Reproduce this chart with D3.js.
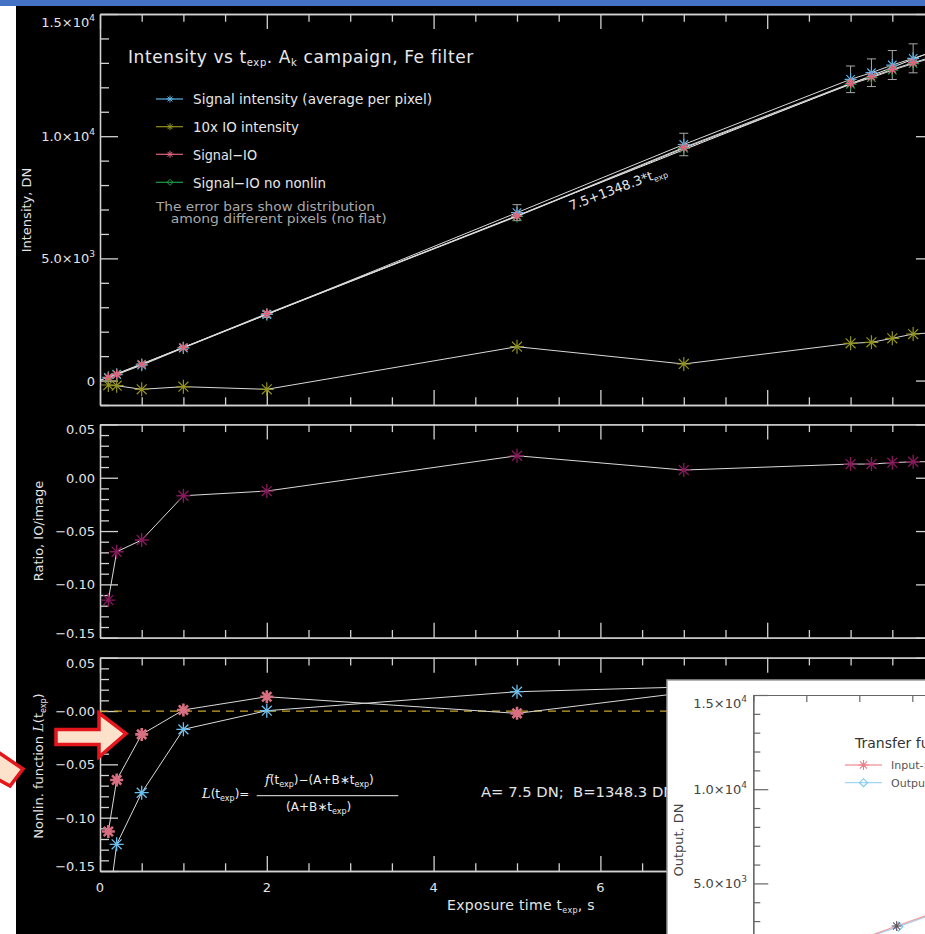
<!DOCTYPE html>
<html><head><meta charset="utf-8">
<script src="https://cdn.jsdelivr.net/npm/d3@7"></script>
<style>
body{margin:0;background:#fff;}
svg{display:block;}
text{font-family:'DejaVu Sans',sans-serif;}
.ax path,.ax line{stroke:#d2d2d2;stroke-width:1.3px;}
.inax path,.inax line{stroke:#666;stroke-width:1.2px;}
.tick{font-size:13px;fill:#e4e4e4;}
</style>
</head><body>
<script>
// ---------------- DATA ----------------
const exposureTime = [0.1, 0.2, 0.5, 1, 2, 5, 7, 9, 9.25, 9.5, 9.75, 10];
const signalIntensity = [116, 243, 629, 1333, 2705, 6871, 9660, 12327, 12597, 12912, 13186, 13460];
const signalError = [6, 11, 30, 61, 125, 327, 460, 545, 566, 593, 593, 600];
const io10xIntensity = [-182, -210, -358, -251, -358, 1385, 678, 1525, 1565, 1729, 1905, 1960];
const signalMinusIO = [126, 259, 667, 1357, 2739, 6735, 9540, 12163, 12433, 12736, 13006, 13270];
const signalMinusIONoNonlin = [132, 262, 670, 1350, 2715, 6715, 9505, 12125, 12395, 12700, 12970, 13235];
const fitA = 7.5, fitB = 1348.3;
const ratioIOImage = [-0.1147, -0.0694, -0.0584, -0.0169, -0.0125, 0.0206, 0.0072, 0.0128, 0.0128, 0.0141, 0.0150, 0.0150];
const nonlinTime = [0.1, 0.2, 0.5, 1, 2, 5, 7];
const nonlinSignalMinusIO = [-0.113, -0.0647, -0.0219, 0.001, 0.0134, -0.0022, 0.0171];
const nonlinSignal = [-0.185, -0.125, -0.0766, -0.0172, 0.0003, 0.0181, 0.0225];
const transferInput = [142, 277, 682, 1356, 2704, 6749, 9446];
const transferOutput = [126, 259, 667, 1357, 2739, 6735, 9540];

const xMajorTicks = [0, 2, 4, 6, 8, 10];
const xTickLabels = ["0", "2", "4", "6", "8", "10"];
const topYMajor = [0, 5000, 10000, 15000];
const topYLabels = [["0", ""], ["5.0×10", "3"], ["1.0×10", "4"], ["1.5×10", "4"]];
const smallYMajor = [-0.15, -0.1, -0.05, 0, 0.05];
const ratioYLabels = ["−0.15", "−0.10", "−0.05", "0.00", "0.05"];
const nonlinYLabels = ["−0.15", "−0.10", "−0.05", "−0.00", "0.05"];
const insetYMajor = [5000, 10000, 15000];
const insetYLabels = [["5.0×10", "3"], ["1.0×10", "4"], ["1.5×10", "4"]];
const legendLabels = ["Signal intensity (average per pixel)", "10x IO intensity", "Signal−IO", "Signal−IO no nonlin"];
const insetLegendLabels = ["Input->Output", "Output->Input"];

// ---------------- STYLE ----------------
const cBlue = "#5cb2e2", cOlive = "#929220", cPink = "#e0647e", cGreen = "#1e9e48", cMag = "#86195a";
const lineCol = "#dadada";

const svg = d3.select("body").append("svg").attr("width", 925).attr("height", 934);
svg.append("rect").attr("width", 925).attr("height", 934).attr("fill", "#fff");
svg.append("rect").attr("x", 0).attr("y", 0).attr("width", 925).attr("height", 6).attr("fill", "#4472c4");
svg.append("rect").attr("x", 16).attr("y", 6).attr("width", 909).attr("height", 928).attr("fill", "#000");

const x = d3.scaleLinear().domain([0, 10]).range([100, 934]);
const yTop = d3.scaleLinear().domain([-1000, 15000]).range([405, 14]);
const yMid = d3.scaleLinear().domain([-0.15, 0.05]).range([637.7, 424.4]);
const yBot = d3.scaleLinear().domain([-0.15, 0.05]).range([871, 657.7]);

const xMinor = d3.range(0.5, 10, 0.5).filter(v => Math.abs(v / 2 - Math.round(v / 2)) > 1e-6);
const topYMinor = d3.range(-1000, 15000, 1000).filter(v => v % 5000 !== 0);
const smallYMinor = d3.range(-14, 5, 1).filter(v => v % 5 !== 0).map(v => v / 100);

function frame(y, yMajor, yMinor) {
  const g = svg.append("g").attr("class", "ax");
  const [b, t] = y.range();
  const add = (tr, ax) => g.append("g").attr("transform", tr).call(ax.tickSizeOuter(0).tickFormat(""));
  add("translate(100,0)", d3.axisLeft(y).tickValues(yMajor).tickSize(-18));
  add("translate(100,0)", d3.axisLeft(y).tickValues(yMinor).tickSize(-9));
  add("translate(934,0)", d3.axisRight(y).tickValues(yMajor).tickSize(-18));
  add("translate(934,0)", d3.axisRight(y).tickValues(yMinor).tickSize(-9));
  add(`translate(0,${b})`, d3.axisBottom(x).tickValues(xMajorTicks).tickSize(-15));
  add(`translate(0,${b})`, d3.axisBottom(x).tickValues(xMinor).tickSize(-7.7));
  add(`translate(0,${t})`, d3.axisTop(x).tickValues(xMajorTicks).tickSize(-15));
  add(`translate(0,${t})`, d3.axisTop(x).tickValues(xMinor).tickSize(-7.7));
}

function yTickText(y, values, labels, xr, fill) {
  const [b, t] = y.range();
  values.forEach((v, i) => {
    const lab = labels[i];
    const hasSup = Array.isArray(lab) && lab[1];
    let base = y(v) + 5;
    base = Math.max(base, t + (hasSup ? 12.7 : 10));
    base = Math.min(base, b);
    const tx = svg.append("text").attr("class", "tick").attr("x", xr).attr("y", base).attr("text-anchor", "end");
    if (fill) tx.style("fill", fill);
    if (Array.isArray(lab)) {
      tx.append("tspan").text(lab[0]);
      if (lab[1]) tx.append("tspan").attr("dy", -6).attr("font-size", 9).text(lab[1]);
    } else tx.text(lab);
  });
}

function clip(id, y) {
  const [b, t] = y.range();
  svg.append("clipPath").attr("id", id).append("rect").attr("x", 100).attr("y", t).attr("width", 834).attr("height", b - t);
}
function star(r) {
  const d = r * 0.7071;
  return `M${-r},0L${r},0M0,${-r}L0,${r}M${-d},${-d}L${d},${d}M${-d},${d}L${d},${-d}`;
}
function diamond(r) { return `M0,${-r}L${r},0L0,${r}L${-r},0Z`; }

function series(g, xs, ys, yScale, drawLine) {
  const pts = xs.map((t, i) => [t, ys[i]]);
  if (drawLine) g.append("path").datum(pts).attr("fill", "none").attr("stroke", lineCol).attr("stroke-width", 1)
    .attr("d", d3.line().x(d => x(d[0])).y(d => yScale(d[1])));
  return pts;
}
function markers(g, pts, yScale, col, r, sw, shape) {
  g.selectAll(null).data(pts).join("path")
    .attr("transform", d => `translate(${x(d[0])},${yScale(d[1])})`)
    .attr("d", (shape || star)(r)).attr("fill", "none").attr("stroke", col).attr("stroke-width", sw);
}

// ---------------- TOP PANEL ----------------
frame(yTop, topYMajor, topYMinor);
yTickText(yTop, topYMajor, topYLabels, 95);
clip("cTop", yTop);
const gTop = svg.append("g").attr("clip-path", "url(#cTop)");
gTop.append("path").datum([[0, fitA], [10, fitA + fitB * 10]]).attr("fill", "none").attr("stroke", "#eee").attr("stroke-width", 1)
  .attr("d", d3.line().x(d => x(d[0])).y(d => yTop(d[1])));
const pSig = series(gTop, exposureTime, signalIntensity, yTop, true);
const pSmi = series(gTop, exposureTime, signalMinusIO, yTop, true);
const pNon = series(gTop, exposureTime, signalMinusIONoNonlin, yTop, true);
const pIO = series(gTop, exposureTime, io10xIntensity, yTop, true);
// error bars
const eb = gTop.selectAll(null).data(exposureTime.map((t, i) => [t, signalIntensity[i], signalError[i]])).join("g").attr("stroke", "#a8a8a8").attr("stroke-width", 1);
eb.append("line").attr("x1", d => x(d[0])).attr("x2", d => x(d[0])).attr("y1", d => yTop(d[1] - d[2])).attr("y2", d => yTop(d[1] + d[2]));
eb.append("line").attr("x1", d => x(d[0]) - 4.5).attr("x2", d => x(d[0]) + 4.5).attr("y1", d => yTop(d[1] - d[2])).attr("y2", d => yTop(d[1] - d[2]));
eb.append("line").attr("x1", d => x(d[0]) - 4.5).attr("x2", d => x(d[0]) + 4.5).attr("y1", d => yTop(d[1] + d[2])).attr("y2", d => yTop(d[1] + d[2]));
markers(gTop, pNon, yTop, cGreen, 6, 1.2);
markers(gTop, pSig, yTop, cBlue, 6, 1.2);
markers(gTop, pSmi, yTop, cPink, 5, 1.4);
markers(gTop, pIO, yTop, cOlive, 7, 1.2);

// title
const title = svg.append("text").attr("x", 128).attr("y", 63.3).attr("font-size", 17).attr("fill", "#e8e8e8").attr("letter-spacing", 0.6);
title.append("tspan").text("Intensity vs t");
title.append("tspan").attr("font-size", 10).attr("dy", 3).text("exp");
title.append("tspan").attr("dy", -3).text(". A");
title.append("tspan").attr("font-size", 10).attr("dy", 3).text("k");
title.append("tspan").attr("dy", -3).text(" campaign, Fe filter");

// legend
const legCols = [cBlue, cOlive, cPink, cGreen];
const legY = [99, 126.7, 154.3, 182.3];
const legW = [239, 106, 64, 133];
legendLabels.forEach((lab, i) => {
  svg.append("line").attr("x1", 156).attr("x2", 183).attr("y1", legY[i]).attr("y2", legY[i]).attr("stroke", legCols[i]).attr("stroke-width", 1.2);
  svg.append("path").attr("transform", `translate(170,${legY[i]})`).attr("d", i === 3 ? diamond(3) : star(3.5)).attr("fill", "none").attr("stroke", legCols[i]).attr("stroke-width", 1);
  svg.append("text").attr("x", 193).attr("y", legY[i] + 5.2).attr("font-size", 14).attr("fill", "#e6e6e6")
    .attr("textLength", legW[i]).attr("lengthAdjust", "spacingAndGlyphs").text(lab);
});
svg.append("text").attr("x", 156).attr("y", 210.7).attr("font-size", 12).attr("fill", "#a8a8a8")
  .attr("textLength", 219).attr("lengthAdjust", "spacingAndGlyphs").text("The error bars show distribution");
svg.append("text").attr("x", 170.7).attr("y", 223).attr("font-size", 12).attr("fill", "#a8a8a8")
  .attr("textLength", 216).attr("lengthAdjust", "spacingAndGlyphs").text("among different pixels (no flat)");

// fit label
const fitAng = Math.atan2(yTop(fitA + fitB * 10) - yTop(fitA), x(10) - x(0)) * 180 / Math.PI;
const fl = svg.append("text").attr("transform", `translate(571,210.5) rotate(${fitAng + 1})`).attr("font-size", 13).attr("fill", "#e4e4e4");
fl.append("tspan").text("7.5+1348.3*t");
fl.append("tspan").attr("font-size", 8).attr("dy", 3).text("exp");

svg.append("text").attr("transform", "translate(31,210) rotate(-90)").attr("text-anchor", "middle").attr("font-size", 13).attr("fill", "#e4e4e4").text("Intensity, DN");

// ---------------- MIDDLE PANEL ----------------
frame(yMid, smallYMajor, smallYMinor);
yTickText(yMid, smallYMajor, ratioYLabels, 95);
clip("cMid", yMid);
const gMid = svg.append("g").attr("clip-path", "url(#cMid)");
const pRatio = series(gMid, exposureTime, ratioIOImage, yMid, true);
markers(gMid, pRatio, yMid, cMag, 7, 1.3);
svg.append("text").attr("transform", "translate(43,531) rotate(-90)").attr("text-anchor", "middle").attr("font-size", 13).attr("fill", "#e4e4e4").text("Ratio, IO/image");

// ---------------- BOTTOM PANEL ----------------
frame(yBot, smallYMajor, smallYMinor);
yTickText(yBot, smallYMajor, nonlinYLabels, 95);
clip("cBot", yBot);
const gBot = svg.append("g").attr("clip-path", "url(#cBot)");
gBot.append("line").attr("x1", x(0)).attr("x2", x(10)).attr("y1", yBot(0)).attr("y2", yBot(0))
  .attr("stroke", "#c9a62c").attr("stroke-width", 1.2).attr("stroke-dasharray", "8,6");
const pNP = series(gBot, nonlinTime, nonlinSignalMinusIO, yBot, true);
const pNS = series(gBot, nonlinTime, nonlinSignal, yBot, true);
markers(gBot, pNS, yBot, "#6cc0ee", 7, 1.3);
markers(gBot, pNP, yBot, "#d86f80", 6.5, 2.6);

xMajorTicks.forEach((v, i) => {
  svg.append("text").attr("class", "tick").attr("x", x(v)).attr("y", 892).attr("text-anchor", "middle").text(xTickLabels[i]);
});
const xt = svg.append("text").attr("x", 447).attr("y", 910).attr("font-size", 14).attr("fill", "#e4e4e4").attr("letter-spacing", 0.3);
xt.append("tspan").text("Exposure time t");
xt.append("tspan").attr("font-size", 8).attr("dy", 3).text("exp");
xt.append("tspan").attr("dy", -3).text(", s");

const yl = svg.append("text").attr("transform", "translate(43,766) rotate(-90)").attr("text-anchor", "middle").attr("font-size", 13).attr("fill", "#e4e4e4");
yl.append("tspan").text("Nonlin. function ");
yl.append("tspan").attr("font-family", "DejaVu Serif").attr("font-style", "italic").text("L");
yl.append("tspan").text("(t");
yl.append("tspan").attr("font-size", 8).attr("dy", 3).text("exp");
yl.append("tspan").attr("dy", -3).text(")");

// formula
const f1 = svg.append("text").attr("x", 202).attr("y", 797.5).attr("font-size", 12).attr("fill", "#eee");
f1.append("tspan").attr("font-family", "DejaVu Serif").attr("font-style", "italic").attr("font-size", 13).text("L");
f1.append("tspan").text("(t");
f1.append("tspan").attr("font-size", 8).attr("dy", 3).text("exp");
f1.append("tspan").attr("dy", -3).text(")=");
const f2 = svg.append("text").attr("x", 265).attr("y", 784).attr("font-size", 12).attr("fill", "#eee");
f2.append("tspan").attr("font-family", "DejaVu Serif").attr("font-style", "italic").attr("font-size", 13).text("f");
f2.append("tspan").text("(t");
f2.append("tspan").attr("font-size", 8).attr("dy", 3).text("exp");
f2.append("tspan").attr("dy", -3).text(")−(A+B∗t");
f2.append("tspan").attr("font-size", 8).attr("dy", 3).text("exp");
f2.append("tspan").attr("dy", -3).text(")");
svg.append("line").attr("x1", 256.7).attr("x2", 398.3).attr("y1", 795.7).attr("y2", 795.7).attr("stroke", "#eee").attr("stroke-width", 1);
const f3 = svg.append("text").attr("x", 286).attr("y", 811).attr("font-size", 12).attr("fill", "#eee");
f3.append("tspan").text("(A+B∗t");
f3.append("tspan").attr("font-size", 8).attr("dy", 3).text("exp");
f3.append("tspan").attr("dy", -3).text(")");
svg.append("text").attr("x", 481).attr("y", 797).attr("font-size", 14).attr("fill", "#e4e4e4").style("white-space", "pre")
  .attr("textLength", 206).attr("lengthAdjust", "spacingAndGlyphs").text("A= 7.5 DN;  B=1348.3 DN/s");

// arrows
const arrowStyle = g => g.attr("fill", "#fde2cb").attr("stroke", "#e4161c").attr("stroke-width", 3.5).attr("stroke-linejoin", "miter");
svg.append("path").attr("d", "M56,729.5L99,729.5L99,713L126,733.5L99,757L99,744.5L56,744.5Z").call(arrowStyle);
svg.append("path").attr("d", "M-8,748L23,769L10,786L-8,776Z").call(arrowStyle);

// ---------------- INSET ----------------
const xIn = d3.scaleLinear().domain([0, 15000]).range([753.3, 753.3 + 15 * 53]);
const yIn = d3.scaleLinear().domain([0, 15000]).range([977.6, 695]);
svg.append("rect").attr("x", 667).attr("y", 680).attr("width", 300).attr("height", 300).attr("fill", "#fff").attr("stroke", "#9a9a9a").attr("stroke-width", 1.5);
const gi = svg.append("g").attr("class", "inax");
gi.append("g").attr("transform", "translate(0,695)").call(d3.axisTop(xIn).tickValues(d3.range(0, 15001, 1000)).tickSize(-7).tickSizeOuter(0).tickFormat(""));
gi.append("g").attr("transform", "translate(753.3,0)").call(d3.axisLeft(yIn).tickValues(insetYMajor).tickSize(-15).tickSizeOuter(0).tickFormat(""));
gi.append("g").attr("transform", "translate(753.3,0)").call(d3.axisLeft(yIn).tickValues(d3.range(1000, 15000, 1000).filter(v => v % 5000 !== 0)).tickSize(-7).tickSizeOuter(0).tickFormat(""));
insetYMajor.forEach((v, i) => {
  const base = Math.max(yIn(v) + 5, 695 + 13);
  const tx = svg.append("text").attr("x", 747).attr("y", base).attr("text-anchor", "end").attr("font-size", 13).attr("fill", "#444");
  tx.append("tspan").text(insetYLabels[i][0]);
  tx.append("tspan").attr("dy", -6).attr("font-size", 9).text(insetYLabels[i][1]);
});
svg.append("text").attr("transform", "translate(683,840) rotate(-90)").attr("text-anchor", "middle").attr("font-size", 13).attr("fill", "#444").text("Output, DN");
const inLine = d3.line().x(d => xIn(d[0])).y(d => yIn(d[1]));
const tfIO = transferInput.map((v, i) => [v, transferOutput[i]]);
const tfOI = transferOutput.map((v, i) => [v, transferInput[i]]);
svg.append("path").datum(tfOI).attr("fill", "none").attr("stroke", "#9fd6f2").attr("stroke-width", 1.3).attr("d", inLine);
svg.append("path").datum(tfIO).attr("fill", "none").attr("stroke", "#f2a0a6").attr("stroke-width", 1.3).attr("d", inLine);
svg.selectAll(null).data(tfOI).join("path").attr("transform", d => `translate(${xIn(d[0])},${yIn(d[1])})`).attr("d", diamond(4.5)).attr("fill", "none").attr("stroke", "#7cc8ee").attr("stroke-width", 1.1);
svg.selectAll(null).data(tfIO).join("path").attr("transform", d => `translate(${xIn(d[0])},${yIn(d[1])})`).attr("d", star(5)).attr("fill", "none").attr("stroke", "#6a5860").attr("stroke-width", 1.1);
svg.append("text").attr("x", 855).attr("y", 748).attr("font-size", 14).attr("fill", "#333").text("Transfer function");
const inCols = ["#f2a0a6", "#9fd6f2"];
[765, 782.7].forEach((yy, i) => {
  svg.append("line").attr("x1", 845).attr("x2", 882).attr("y1", yy).attr("y2", yy).attr("stroke", inCols[i]).attr("stroke-width", 1.3);
  svg.append("path").attr("transform", `translate(863.5,${yy})`).attr("d", i === 0 ? star(5) : diamond(4)).attr("fill", "none").attr("stroke", i === 0 ? "#e8808a" : "#7cc8ee").attr("stroke-width", 1.1);
  svg.append("text").attr("x", 891).attr("y", yy + 4).attr("font-size", 11).attr("fill", "#555").text(insetLegendLabels[i]);
});
</script>
</body></html>
